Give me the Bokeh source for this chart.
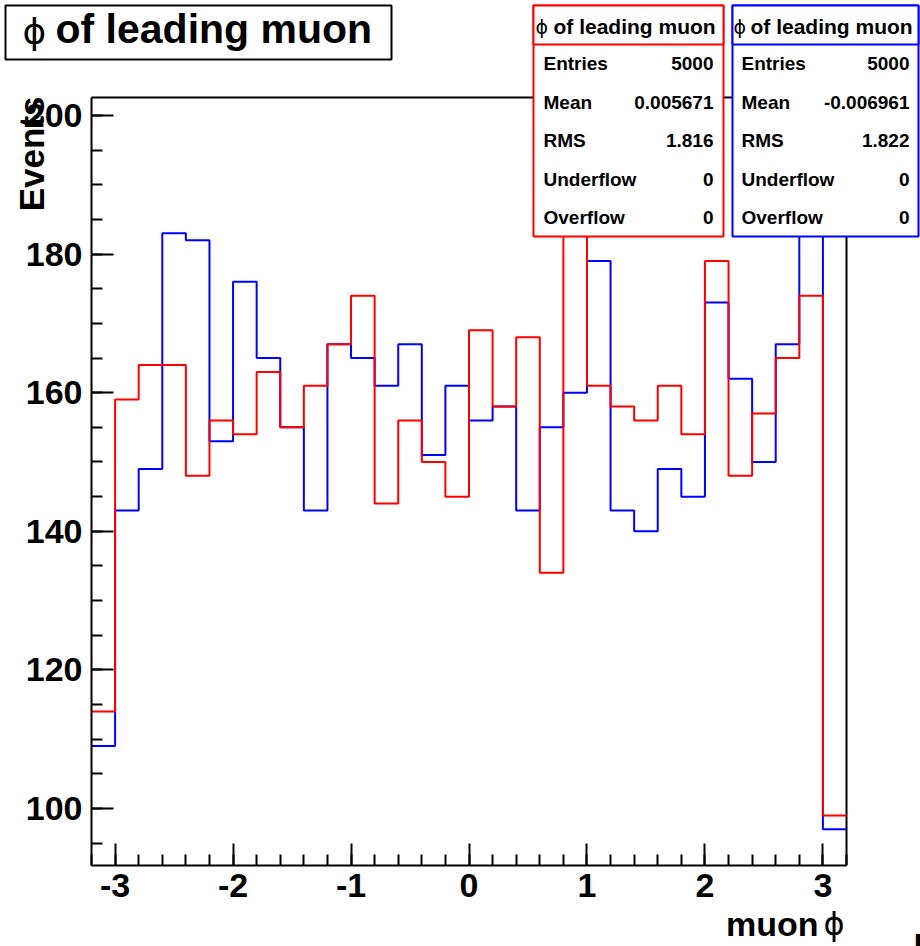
import math
from bokeh.plotting import figure
from bokeh.models import (Range1d, SingleIntervalTicker, Label, BoxAnnotation,
                          CustomJSTickFormatter)
from bokeh.embed import file_html
from bokeh.resources import INLINE

# ---------------- data ----------------
bin_edges = [-3.2, -3.0, -2.8, -2.6, -2.4, -2.2, -2.0, -1.8, -1.6, -1.4, -1.2,
             -1.0, -0.8, -0.6, -0.4, -0.2, 0.0, 0.2, 0.4, 0.6, 0.8, 1.0,
             1.2, 1.4, 1.6, 1.8, 2.0, 2.2, 2.4, 2.6, 2.8, 3.0, 3.2]
red_counts = [114, 159, 164, 164, 148, 156, 154, 163, 155, 161, 167, 174, 144, 156, 150, 145,
              169, 158, 168, 134, 185, 161, 158, 156, 161, 154, 179, 148, 157, 165, 174, 99]
blue_counts = [109, 143, 149, 183, 182, 153, 176, 165, 155, 143, 167, 165, 161, 167, 151, 161,
               156, 158, 143, 155, 160, 179, 143, 140, 149, 145, 173, 162, 150, 167, 193, 97]

title_text = "of leading muon"
x_title = "muon"
y_title = "Events"
stat_names = ["Entries", "Mean", "RMS", "Underflow", "Overflow"]
red_stats = ["5000", "0.005671", "1.816", "0", "0"]
blue_stats = ["5000", "-0.006961", "1.822", "0", "0"]
PHI = "\u03d5"

# axis extent (the histogram frame)
XMIN, XMAX = -3.2, 3.2
YMIN, YMAX = 91.84, 202.6

# ---------------- layout ----------------
W, H = 920, 946
# pixel position of the histogram frame on the canvas
PX_L, PX_R, PX_T, PX_B = 91.0, 846.0, 97.0, 864.5
ux = (XMAX - XMIN) / (PX_R - PX_L)
uy = (YMAX - YMIN) / (PX_B - PX_T)
x_range = Range1d(XMIN - PX_L * ux, XMAX + (W - PX_R) * ux)
y_range = Range1d(YMIN - (H - PX_B) * uy, YMAX + PX_T * uy)


def fx(x):
    return x


def fy(y):
    return H - y


FONT = "Liberation Sans"
PHI_FONT = "DejaVu Sans"

p = figure(width=W, height=H, output_backend="svg", toolbar_location=None,
           x_range=x_range, y_range=y_range,
           min_border_left=0, min_border_right=0, min_border_top=0, min_border_bottom=0)
p.title.visible = False
p.grid.visible = False
p.background_fill_color = "white"
p.border_fill_color = "white"
p.outline_line_color = None

p.xaxis.ticker = SingleIntervalTicker(interval=1, num_minor_ticks=5)
p.yaxis.ticker = SingleIntervalTicker(interval=20, num_minor_ticks=4)
p.xaxis.fixed_location = YMIN
p.yaxis.fixed_location = XMIN
p.xaxis.bounds = (XMIN, XMAX)
p.yaxis.bounds = (YMIN, YMAX)
fmt = CustomJSTickFormatter(code="return String(Math.round(tick));")
p.xaxis.formatter = fmt
p.yaxis.formatter = fmt

for ax in (p.xaxis[0], p.yaxis[0]):
    ax.axis_line_color = "black"
    ax.axis_line_width = 2
    ax.major_tick_in = 22
    ax.major_tick_out = 0
    ax.minor_tick_in = 11
    ax.minor_tick_out = 0
    ax.major_tick_line_width = 2
    ax.minor_tick_line_width = 2
    ax.major_tick_line_color = "black"
    ax.minor_tick_line_color = "black"
    ax.major_label_text_font = FONT
    ax.major_label_text_font_style = "bold"
    ax.major_label_text_font_size = "34px"
    ax.major_label_text_color = "black"
p.yaxis.major_label_standoff = 9
p.xaxis.major_label_standoff = 9

# frame top and right edges
p.segment(x0=[XMIN, XMAX], y0=[YMAX, YMIN], x1=[XMAX, XMAX], y1=[YMAX, YMAX],
          line_color="black", line_width=2)

# histograms (blue drawn first, red on top)
p.step(x=bin_edges, y=blue_counts + [blue_counts[-1]], mode="after",
       line_color="#0000ff", line_width=2)
p.step(x=bin_edges, y=red_counts + [red_counts[-1]], mode="after",
       line_color="#ff0000", line_width=2)


def box(l, r, t, b, color):
    p.add_layout(BoxAnnotation(left=fx(l), right=fx(r), top=fy(t), bottom=fy(b),
                               left_units="screen", right_units="screen",
                               top_units="screen", bottom_units="screen",
                               fill_color="white", fill_alpha=1.0,
                               line_color=color, line_alpha=1.0, line_width=2,
                               level="overlay"))


def label(x, base, text, size, bold=True, align="left", angle=0.0, font=FONT):
    # place by the alphabetic baseline, using the centre of the font box
    mid = base - 0.3465 * size
    if angle:
        xx, yy = x - 0.3465 * size, base
    else:
        xx, yy = x, mid
    p.add_layout(Label(x=fx(xx), y=fy(yy), x_units="screen", y_units="screen",
                       text=text, text_font=font, text_font_size=f"{size}px",
                       text_font_style="bold" if bold else "normal",
                       text_align=align, text_baseline="middle",
                       text_color="black", angle=angle, level="overlay"))


# title box
box(5, 391, 5, 59, "black")
label(22, 43, PHI, 36, bold=False, font=PHI_FONT)
label(55, 43, title_text, 41)

# stats boxes
row_base = [70, 109, 147, 186, 224]
for (l, r, color, vals, name_x, val_x, phi_x, txt_x) in [
        (533, 723, "#ff0000", red_stats, 543, 713, 535, 553),
        (732, 918, "#0000ff", blue_stats, 741, 909, 733, 750)]:
    box(l, r, 5, 236, color)
    box(l, r, 5, 44, color)
    label(phi_x, 33, PHI, 19, bold=False, font=PHI_FONT)
    label(txt_x, 33, title_text, 21)
    for nm, v, yb in zip(stat_names, vals, row_base):
        label(name_x, yb, nm, 19)
        label(val_x, yb, v, 19, align="right")

# axis titles
label(43, 96, y_title, 35, align="right", angle=math.pi / 2)
label(818, 935, x_title, 34, align="right")
label(823, 935, PHI, 32, bold=False, font=PHI_FONT)
label(913, 951, "r", 34)

open("out.html", "w").write(file_html(p, INLINE))
